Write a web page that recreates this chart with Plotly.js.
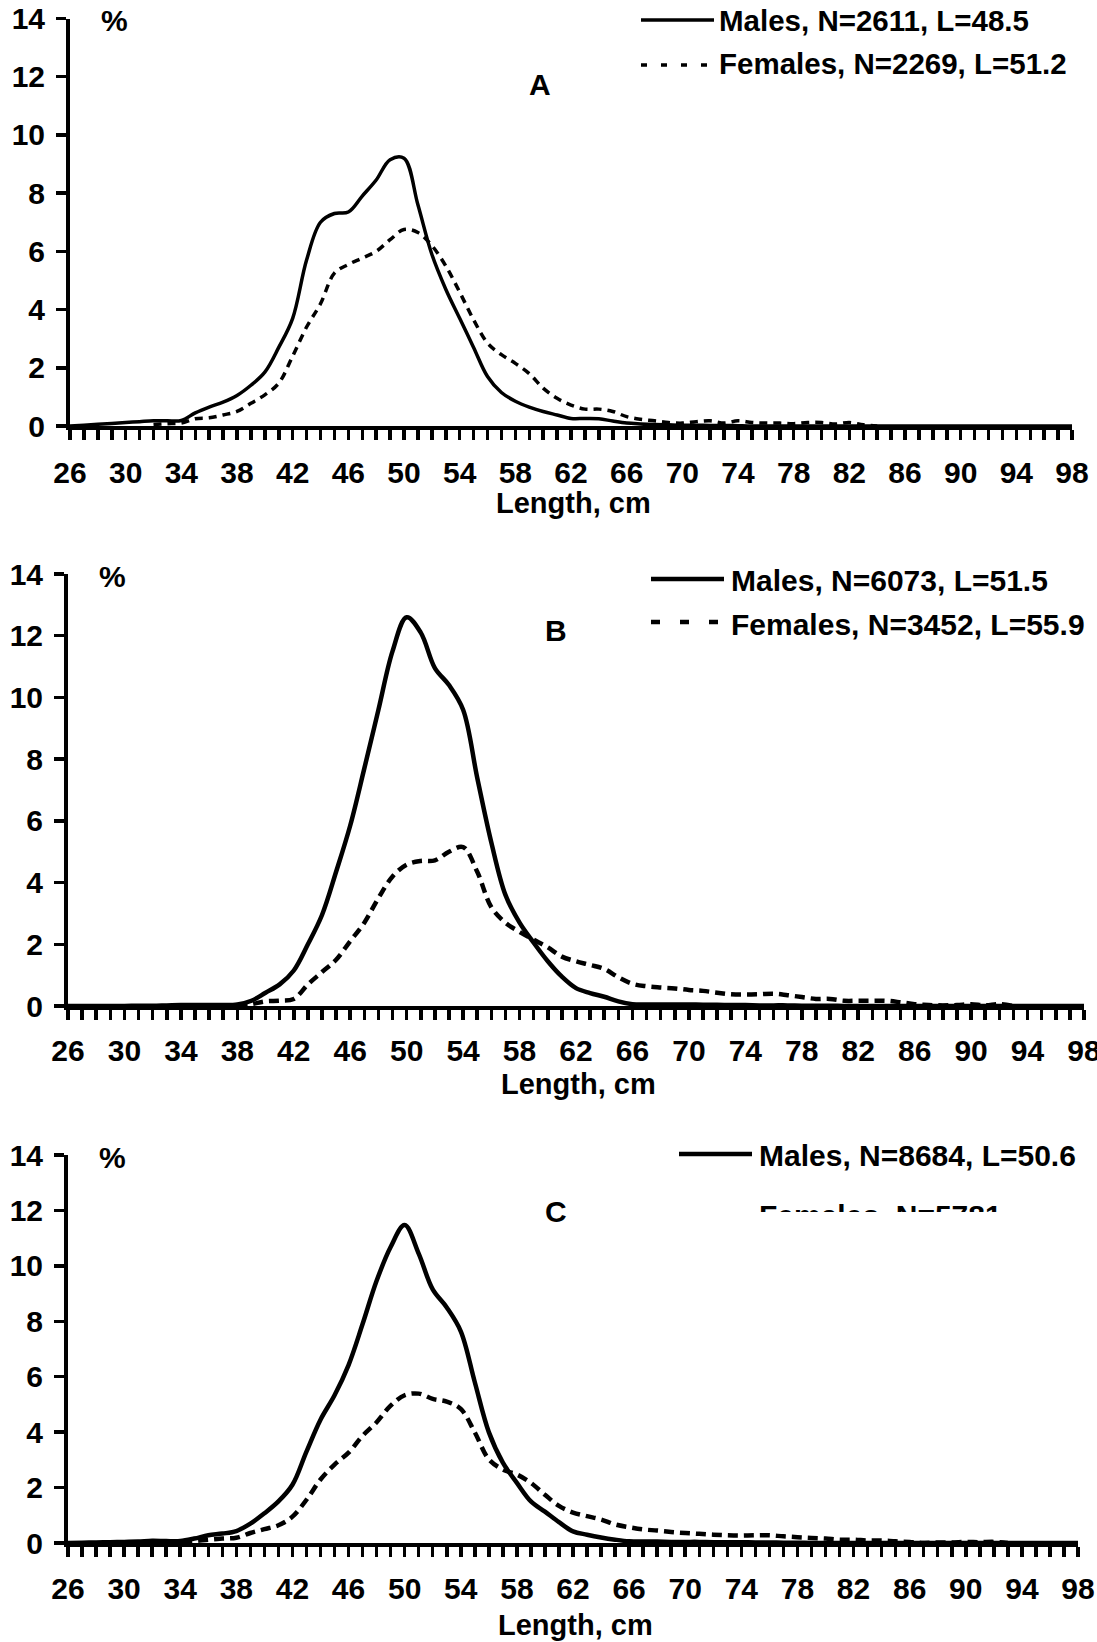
<!DOCTYPE html>
<html>
<head>
<meta charset="utf-8">
<script src="https://cdn.plot.ly/plotly-3.0.1.min.js"></script>
<style>html,body{margin:0;padding:0;background:#fff;}#chart{width:1097px;height:1642px;}</style>
</head>
<body>
<div id="chart"></div>
<script>
// ---------------- DATA ----------------
const lengths = [26,27,28,29,30,31,32,33,34,35,36,37,38,39,40,41,42,43,44,45,46,47,48,49,50,51,52,53,54,55,56,57,58,59,60,61,62,63,64,65,66,67,68,69,70,71,72,73,74,75,76,77,78,79,80,81,82,83,84,85,86,87,88,89,90,91,92,93,94,95,96,97,98];

// Panel A
const malesA = [0.00,0.03,0.06,0.09,0.12,0.15,0.18,0.18,0.19,0.45,0.65,0.82,1.05,1.40,1.85,2.70,3.70,5.70,7.00,7.30,7.35,7.90,8.45,9.15,9.20,7.60,5.90,4.70,3.70,2.70,1.70,1.15,0.85,0.65,0.50,0.38,0.26,0.26,0.25,0.17,0.10,0.07,0.05,0.04,0.03,0.03,0.02,0.02,0.01,0.00,0.00,0.00,0.00,0.00,0.00,0.00,0.00,0.00,0.00,0.00,0.00,0.00,0.00,0.00,0.00,0.00,0.00,0.00,0.00,0.00,0.00,0.00,0.00];
const femalesA = [null,null,null,null,null,null,0.05,0.08,0.10,0.25,0.28,0.38,0.50,0.78,1.07,1.47,2.40,3.40,4.20,5.25,5.55,5.77,6.00,6.40,6.75,6.65,6.20,5.50,4.60,3.65,2.85,2.45,2.15,1.80,1.30,0.95,0.72,0.58,0.58,0.50,0.32,0.23,0.18,0.12,0.10,0.15,0.18,0.10,0.18,0.12,0.10,0.10,0.08,0.12,0.12,0.07,0.12,0.04,0.00,null,null,null,null,null,null,null,null,null,null,null,null,null,null];

// Panel B
const malesB = [0.00,0.00,0.00,0.00,0.00,0.01,0.01,0.02,0.03,0.03,0.03,0.03,0.05,0.17,0.43,0.70,1.15,2.00,2.95,4.35,5.85,7.70,9.60,11.50,12.60,12.10,10.95,10.40,9.60,7.40,5.30,3.60,2.70,2.05,1.45,0.95,0.58,0.42,0.30,0.15,0.06,0.05,0.05,0.05,0.05,0.04,0.04,0.03,0.03,0.02,0.02,0.02,0.01,0.01,0.01,0.00,0.00,0.00,0.00,0.00,0.00,0.00,0.00,0.00,0.00,0.00,0.00,0.00,0.00,0.00,0.00,0.00,0.00];
const femalesB = [null,null,null,null,null,null,null,null,null,null,null,null,0.00,0.06,0.15,0.17,0.23,0.70,1.10,1.50,2.10,2.70,3.50,4.20,4.58,4.70,4.72,5.00,5.15,4.35,3.20,2.70,2.40,2.15,1.90,1.60,1.45,1.33,1.20,0.93,0.72,0.64,0.60,0.57,0.52,0.49,0.43,0.38,0.37,0.38,0.40,0.35,0.29,0.23,0.23,0.17,0.17,0.17,0.17,0.12,0.06,0.03,0.02,0.03,0.06,0.02,0.06,0.00,null,null,null,null,null];

// Panel C
const malesC = [0.00,0.01,0.02,0.03,0.04,0.05,0.08,0.07,0.07,0.16,0.28,0.34,0.43,0.70,1.07,1.50,2.10,3.30,4.45,5.33,6.42,7.90,9.46,10.68,11.47,10.44,9.15,8.50,7.64,5.80,4.00,2.90,2.17,1.50,1.13,0.75,0.42,0.30,0.20,0.12,0.06,0.05,0.05,0.04,0.04,0.04,0.03,0.03,0.03,0.02,0.02,0.01,0.01,0.00,0.00,0.00,0.00,0.00,0.00,0.00,0.00,0.00,0.00,0.00,0.00,0.00,0.00,0.00,0.00,0.00,0.00,0.00,0.00];
const femalesC = [null,null,null,null,null,null,null,0.02,0.04,0.07,0.12,0.16,0.19,0.36,0.50,0.64,0.95,1.56,2.29,2.83,3.26,3.87,4.36,4.96,5.33,5.39,5.20,5.10,4.84,3.99,3.02,2.65,2.47,2.17,1.74,1.34,1.10,0.97,0.85,0.67,0.57,0.49,0.45,0.40,0.36,0.33,0.30,0.28,0.27,0.28,0.28,0.24,0.21,0.18,0.16,0.12,0.12,0.09,0.09,0.06,0.04,0.00,0.02,0.02,0.04,0.03,0.04,0.00,null,null,null,null,null];

const panelLetters = ['A','B','C'];
const maleLabels = ['Males, N=2611, L=48.5','Males, N=6073, L=51.5','Males, N=8684, L=50.6'];
const femaleLabels = ['Females, N=2269, L=51.2','Females, N=3452, L=55.9','Females, N=5781,'];
const xTitle = 'Length, cm';
const yUnit = '%';

// ---------------- LAYOUT HELPERS ----------------
const W = 1097, H = 1642;
const fx = v => v / W;
const fy = v => 1 - v / H;
const FAM = 'Liberation Sans, Arial, Helvetica, sans-serif';
const fnt = (s) => ({family: FAM, size: s, color: '#000', weight: 700});

// plot boxes in page pixels: left, right, top (value 14), bottom (value 0); ty = x-title centre
const boxes = [
  {l: 70, r: 1072, t: 18.5, b: 426, lw: 3.5, so: 7, ty: 503},
  {l: 68, r: 1084, t: 574, b: 1006, lw: 4.5, so: 5, ty: 1084},
  {l: 68, r: 1078, t: 1155, b: 1543, lw: 4.5, so: 6, ty: 1625}
];
const femDash = ['8px,6px', '10px,6px', '10px,6px'];

const data = [];
const layout = {
  width: W, height: H,
  margin: {l: 0, r: 0, t: 0, b: 0},
  paper_bgcolor: '#fff', plot_bgcolor: '#fff',
  showlegend: false,
  font: fnt(28),
  shapes: [], annotations: []
};

const malesAll = [malesA, malesB, malesC];
const femalesAll = [femalesA, femalesB, femalesC];

boxes.forEach((b, i) => {
  const xa = i === 0 ? 'x' : 'x' + (i + 1);
  const ya = i === 0 ? 'y' : 'y' + (i + 1);
  const xk = i === 0 ? 'xaxis' : 'xaxis' + (i + 1);
  const yk = i === 0 ? 'yaxis' : 'yaxis' + (i + 1);

  data.push({x: lengths, y: femalesAll[i], xaxis: xa, yaxis: ya, type: 'scatter', mode: 'lines',
    name: femaleLabels[i], line: {color: '#000', width: b.lw, dash: femDash[i], shape: 'spline', smoothing: 1}, hoverinfo: 'skip'});
  data.push({x: lengths, y: malesAll[i], xaxis: xa, yaxis: ya, type: 'scatter', mode: 'lines',
    name: maleLabels[i], line: {color: '#000', width: b.lw, shape: 'spline', smoothing: 1}, hoverinfo: 'skip'});

  layout[xk] = {
    domain: [fx(b.l), fx(b.r)], anchor: ya, range: [26, 98],
    tickmode: 'linear', tick0: 26, dtick: 4,
    ticks: 'outside', ticklen: 10, tickwidth: 3.5, tickcolor: '#000',
    minor: {dtick: 1, tick0: 26, ticks: 'outside', ticklen: 10, tickwidth: 3.5, tickcolor: '#000', showgrid: false},
    showline: true, linewidth: 4, linecolor: '#000',
    showgrid: false, zeroline: false,
    tickfont: fnt(30), ticklabelstandoff: b.so, ticklabeloverflow: 'allow'
  };
  layout[yk] = {
    domain: [fy(b.b), fy(b.t)], anchor: xa, range: [0, 14],
    tickmode: 'linear', tick0: 0, dtick: 2,
    ticks: 'outside', ticklen: 10, tickwidth: 3.5, tickcolor: '#000',
    showline: true, linewidth: 4, linecolor: '#000',
    showgrid: false, zeroline: false,
    tickfont: fnt(30), ticklabelstandoff: 5
  };

  // x-axis title, centred under the plot
  layout.annotations.push({xref: 'paper', yref: 'paper', x: fx((b.l + b.r) / 2 + 2), y: fy(b.ty), text: xTitle,
    showarrow: false, xanchor: 'center', yanchor: 'middle', font: fnt(29)});
  // "%" unit label
  layout.annotations.push({xref: 'paper', yref: 'paper', x: fx(b.l + 44), y: fy(b.t + 2), text: yUnit,
    showarrow: false, xanchor: 'center', yanchor: 'middle', font: fnt(30)});
});

// panel letters
const letterPos = [[540, 84], [556, 630], [556, 1211]];
letterPos.forEach((p, i) => {
  layout.annotations.push({xref: 'paper', yref: 'paper', x: fx(p[0]), y: fy(p[1]), text: panelLetters[i],
    showarrow: false, xanchor: 'center', yanchor: 'middle', font: fnt(30)});
});

// legends (line samples + text)
const legend = [
  {x0: 641, x1: 714, tx: 717, ym: 20, yf: 65, ytm: 21, ytf: 64, w: 3.5, fd: '6px,14px', fs: 29.5},
  {x0: 651, x1: 724, tx: 729, ym: 579, yf: 622, ytm: 581, ytf: 625, w: 4.5, fd: '9px,20px', fs: 30},
  {x0: 679, x1: 752, tx: 757, ym: 1154, yf: null, ytm: 1155, ytf: null, w: 4.5, fd: '9px,20px', fs: 30}
];
legend.forEach((L, i) => {
  layout.shapes.push({type: 'line', xref: 'paper', yref: 'paper', x0: fx(L.x0), x1: fx(L.x1), y0: fy(L.ym), y1: fy(L.ym),
    line: {color: '#000', width: L.w}});
  layout.annotations.push({xref: 'paper', yref: 'paper', x: fx(L.tx), y: fy(L.ytm), text: maleLabels[i],
    showarrow: false, xanchor: 'left', yanchor: 'middle', font: fnt(L.fs)});
  if (L.yf !== null) {
    layout.shapes.push({type: 'line', xref: 'paper', yref: 'paper', x0: fx(L.x0), x1: fx(L.x1), y0: fy(L.yf), y1: fy(L.yf),
      line: {color: '#000', width: L.w, dash: L.fd}});
    layout.annotations.push({xref: 'paper', yref: 'paper', x: fx(L.tx), y: fy(L.ytf), text: femaleLabels[i],
      showarrow: false, xanchor: 'left', yanchor: 'middle', font: fnt(L.fs)});
  }
});
// panel C: second legend entry is clipped in the original (only the top of the text shows)
layout.annotations.push({xref: 'paper', yref: 'paper', x: fx(757), y: fy(1197), text: femaleLabels[2],
  showarrow: false, xanchor: 'left', yanchor: 'top', valign: 'top', align: 'left', height: 13, width: 340, font: fnt(30)});

Plotly.newPlot('chart', data, layout, {staticPlot: true, displayModeBar: false});
</script>
</body>
</html>
